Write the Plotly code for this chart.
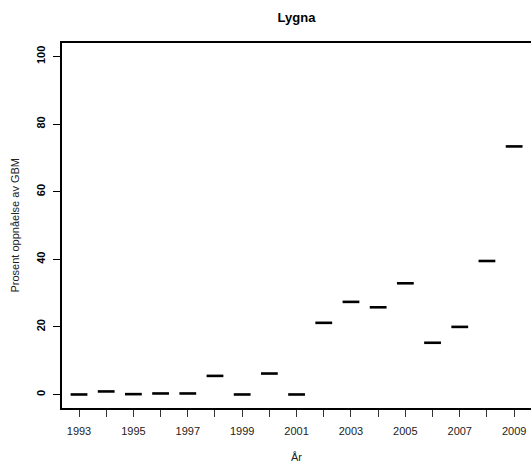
import plotly.graph_objects as go

years = list(range(1993, 2010))
values = [0.0, 0.9, 0.1, 0.3, 0.3, 5.5, 0.0, 6.2, 0.0, 21.2, 27.4, 25.8, 32.9, 15.3, 20.0, 39.5, 73.4]
x_tick_labels = [str(y) if (y - 1993) % 2 == 0 else "" for y in years]
y_ticks = [0, 20, 40, 60, 80, 100]
title = "Lygna"
x_title = "År"
y_title = "Prosent oppnåelse av GBM"

FONT = "Liberation Sans, Arial, Helvetica, sans-serif"

fig = go.Figure()
fig.add_trace(go.Scatter(
    x=years, y=values, mode="markers",
    marker=dict(symbol="line-ew", size=12, color="black",
                line=dict(color="black", width=2.6)),
    hoverinfo="x+y", showlegend=False, cliponaxis=False,
))

W, H = 531, 463
L, R, T, B = 62, 0, 43, 55

fig.update_layout(
    width=W, height=H,
    margin=dict(l=L, r=R, t=T, b=B, pad=0, autoexpand=False),
    paper_bgcolor="white", plot_bgcolor="white",
    font=dict(family=FONT, color="black", size=11),
    title=dict(text="<b>" + title + "</b>", x=0.5, xref="paper", xanchor="center",
               y=1 - 17 / H, yref="container", yanchor="middle",
               font=dict(size=13, family=FONT, color="black")),
    xaxis=dict(
        range=[1992.375, 2009.62], tickmode="array", tickvals=years, ticktext=x_tick_labels,
        showgrid=False, zeroline=False, showline=True, linecolor="black", linewidth=2,
        mirror=True, ticks="outside", ticklen=7, tickwidth=1, tickcolor="#333",
        tickfont=dict(size=11, color="#222", family=FONT), ticklabelstandoff=5,
        automargin=False,
    ),
    yaxis=dict(
        range=[-4, 104], tickmode="array", tickvals=y_ticks,
        showgrid=False, zeroline=False, showline=True, linecolor="black", linewidth=2,
        mirror=False, ticks="outside", ticklen=7, tickwidth=1, tickcolor="black",
        tickangle=-90, tickfont=dict(size=11, color="black", family=FONT, weight="bold"),
        ticklabelstandoff=4, automargin=False,
    ),
    annotations=[
        dict(text=x_title, xref="paper", yref="paper", x=0.5, y=-(457 - (H - B)) / (H - T - B),
             xanchor="center", yanchor="middle", showarrow=False,
             font=dict(size=11, color="#222", family=FONT)),
        dict(text=y_title, xref="paper", yref="paper", x=-(L - 14) / (W - L - R), y=0.5,
             xanchor="center", yanchor="middle", textangle=-90, showarrow=False,
             font=dict(size=11, color="#222", family=FONT)),
    ],
)

fig.write_html("out.html", config={"displayModeBar": False},
               post_script="document.body.style.margin='0px';document.body.style.overflow='hidden';")
